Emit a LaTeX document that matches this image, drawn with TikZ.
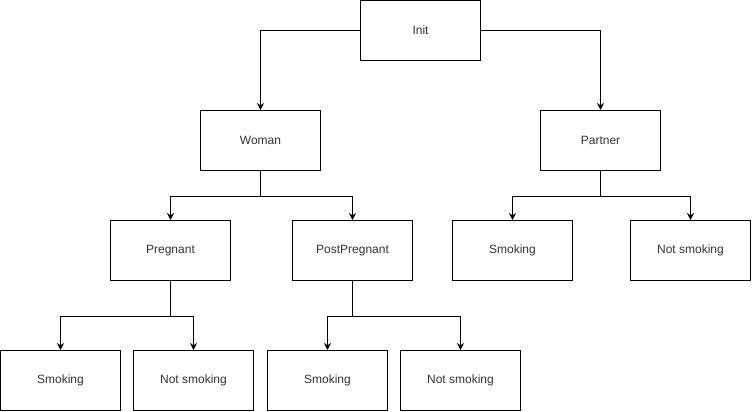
\documentclass[tikz,border=0pt]{standalone}
\usepackage{fontspec}
\setmainfont{Liberation Sans}
\usetikzlibrary{arrows.meta}
\begin{document}
\begin{tikzpicture}[x=1pt,y=-1pt,
  box/.style={draw=black,line width=1pt,minimum width=120pt,minimum height=60pt,inner sep=0pt,text=black!80,font=\fontsize{12pt}{14pt}\selectfont},
  arr/.style={draw=black,line width=1pt,-{Stealth[length=7pt,width=7pt]}}]
\useasboundingbox (0,0) rectangle (752,412);
\node[box] (init) at (420.5,30.5) {Init};
\node[box] (woman) at (260.5,140.5) {Woman};
\node[box] (partner) at (600.5,140.5) {Partner};
\node[box] (preg) at (170.5,250.5) {Pregnant};
\node[box] (post) at (352.5,250.5) {PostPregnant};
\node[box] (psmk) at (512.5,250.5) {Smoking};
\node[box] (pnsmk) at (690.5,250.5) {Not smoking};
\node[box] (s1) at (60.5,380.5) {Smoking};
\node[box] (n1) at (193.5,380.5) {Not smoking};
\node[box] (s2) at (327.5,380.5) {Smoking};
\node[box] (n2) at (460.5,380.5) {Not smoking};
\draw[arr] (init.west) -| (woman.north);
\draw[arr] (init.east) -| (partner.north);
\draw[arr] (woman.south) -- ++(0,25) -| (preg.north);
\draw[arr] (woman.south) -- ++(0,25) -| (post.north);
\draw[arr] (partner.south) -- ++(0,25) -| (psmk.north);
\draw[arr] (partner.south) -- ++(0,25) -| (pnsmk.north);
\draw[arr] (preg.south) -- ++(0,35) -| (s1.north);
\draw[arr] (preg.south) -- ++(0,35) -| (n1.north);
\draw[arr] (post.south) -- ++(0,35) -| (s2.north);
\draw[arr] (post.south) -- ++(0,35) -| (n2.north);
\end{tikzpicture}
\end{document}
